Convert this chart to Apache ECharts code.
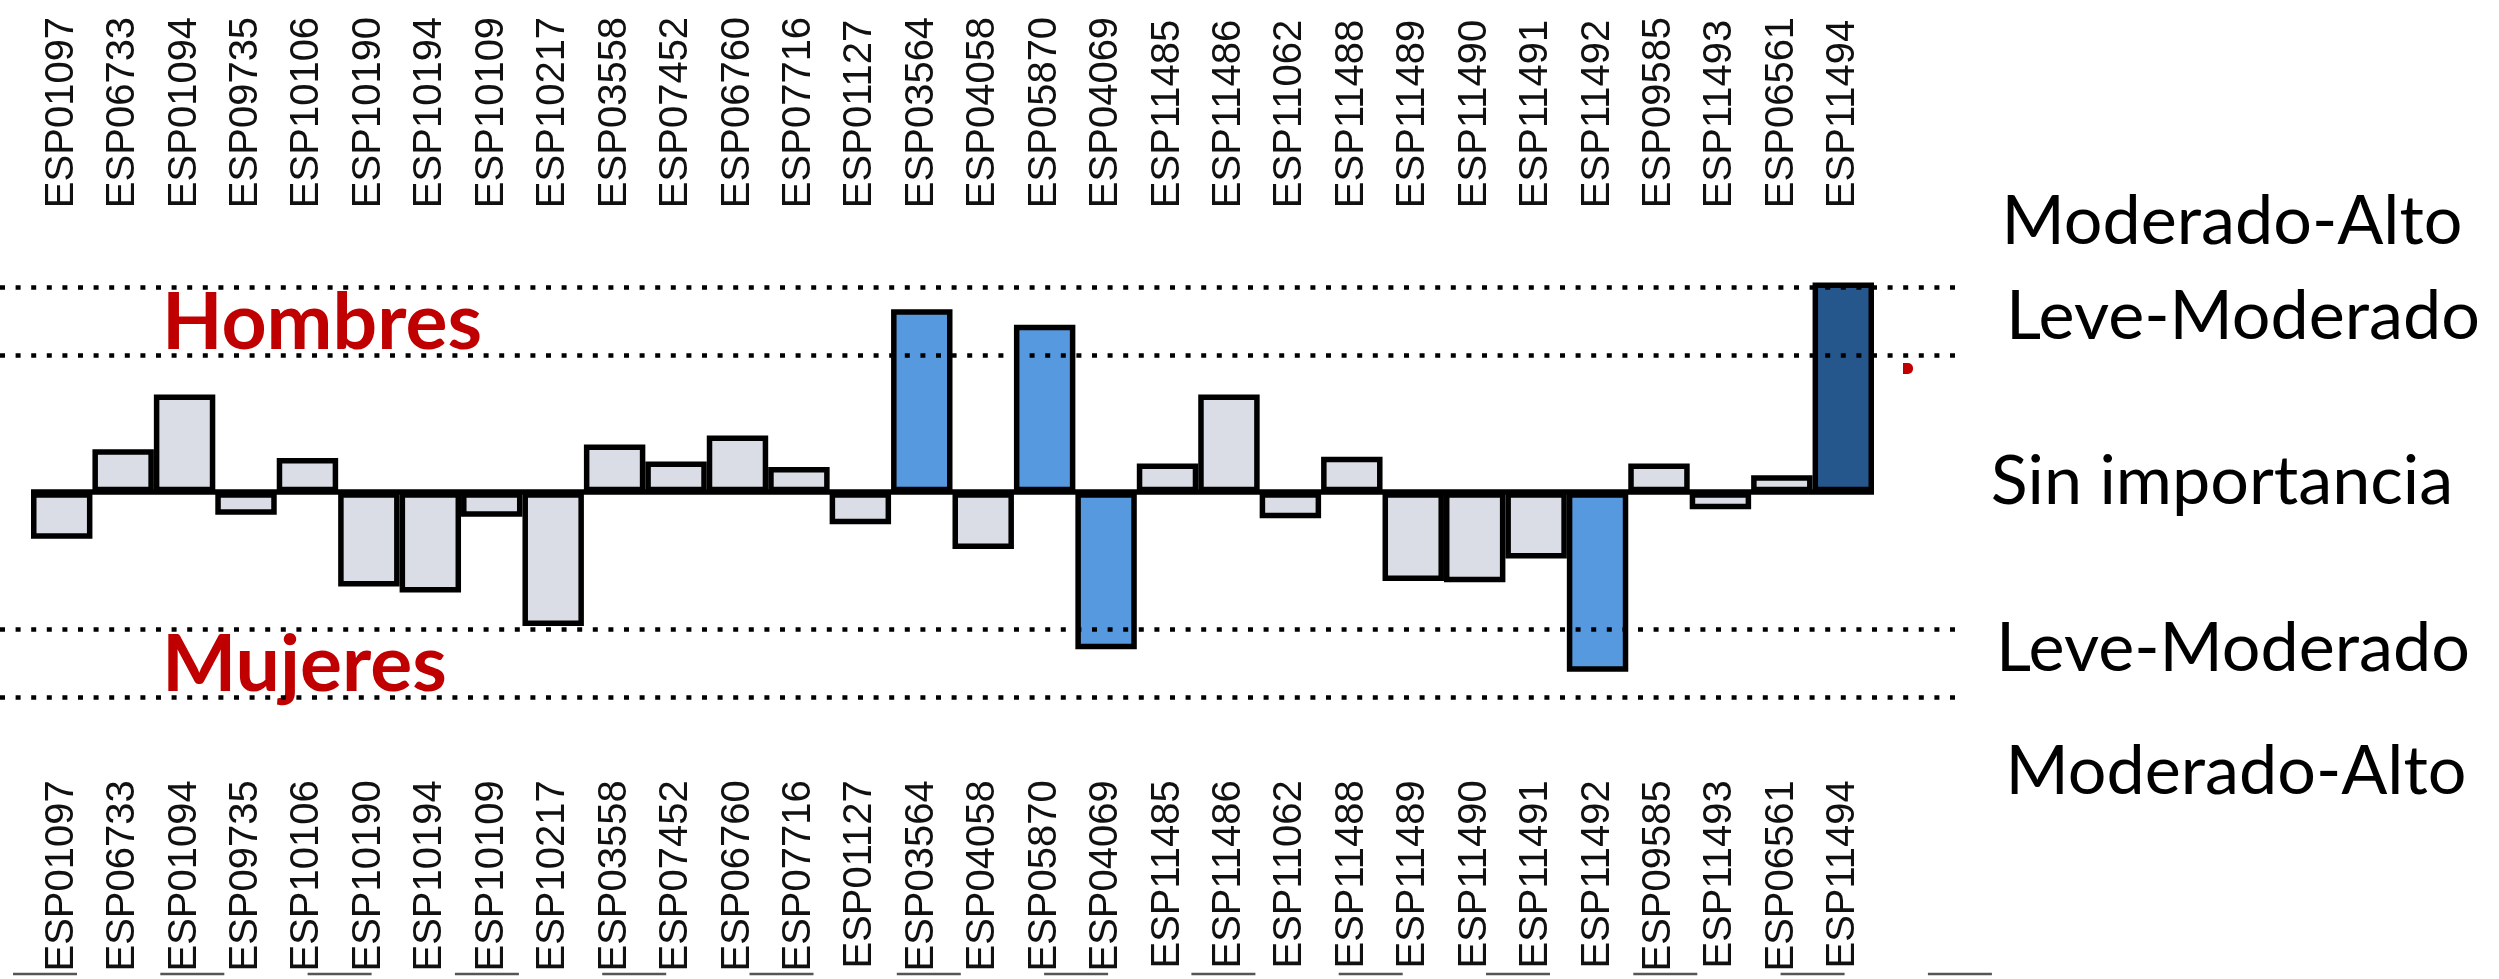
<!DOCTYPE html>
<html>
<head>
<meta charset="utf-8">
<script src="https://cdn.jsdelivr.net/npm/echarts@6/dist/echarts.min.js"></script>
<style>
  html, body { margin: 0; padding: 0; background: #ffffff; }
  #chart { width: 2499px; height: 979px; }
</style>
</head>
<body>
<div id="chart"></div>
<script>
// Station codes, left to right
const categories = [
  'ESP01097', 'ESP06733', 'ESP01094', 'ESP09735', 'ESP10106', 'ESP10190',
  'ESP10194', 'ESP10109', 'ESP10217', 'ESP03558', 'ESP07452', 'ESP06760',
  'ESP07716', 'ESP01127', 'ESP03564', 'ESP04058', 'ESP05870', 'ESP04069',
  'ESP11485', 'ESP11486', 'ESP11062', 'ESP11488', 'ESP11489', 'ESP11490',
  'ESP11491', 'ESP11492', 'ESP09585', 'ESP11493', 'ESP06561', 'ESP11494'
];

// Difference per station: positive = Hombres, negative = Mujeres
const values = [
  -0.68, 0.63, 1.43, -0.33, 0.50, -1.38,
  -1.47, -0.36, -1.96, 0.70, 0.45, 0.83,
  0.37, -0.47, 2.68, -0.83, 2.45, -2.30,
  0.42, 1.43, -0.38, 0.52, -1.30, -1.32,
  -0.97, -2.63, 0.42, -0.25, 0.25, 3.07
];

// Class limits: Leve-Moderado and Moderado-Alto
const thresholds = [2, 3];

// Level names, top to bottom
const levelLabels = ['Moderado-Alto', 'Leve-Moderado', 'Sin importancia', 'Leve-Moderado', 'Moderado-Alto'];
const groupLabels = ['Hombres', 'Mujeres'];

const W = 2499, H = 979;
const zeroY = 492.2;       // pixel row of the zero line
const unitPx = 68.3;       // pixels per unit
const yMin = -3.5, yMax = 3.5;
const gridTop = zeroY - yMax * unitPx;
const gridBottomEdge = zeroY - yMin * unitPx;

const colGrey = '#dadde5';
const colBlue = '#5799df';
const colNavy = '#26578c';

function barColor(v) {
  const a = Math.abs(v);
  if (a >= thresholds[1]) return colNavy;
  if (a >= thresholds[0]) return colBlue;
  return colGrey;
}

// Font size that makes a string span a given width
function fitFontSize(text, weight, family, width) {
  const ctx = document.createElement('canvas').getContext('2d');
  ctx.font = weight + ' 100px ' + family;
  return 100 * width / ctx.measureText(text).width;
}

const levelFont = fitFontSize('Leve-Moderado', 'normal', 'Lato', 474);
const groupFont = fitFontSize('Hombres', 'bold', 'Lato', 320);

const levelX = [2232, 2243, 2222, 2233, 2236];
const levelY = [222, 317, 482, 649, 772];
const groupY = [324, 666];

const graphics = [];
levelLabels.forEach((t, i) => {
  graphics.push({
    type: 'text', x: levelX[i], y: levelY[i], silent: true,
    style: { text: t, fontSize: levelFont, fontFamily: 'Lato', fontWeight: 'normal',
             fill: '#000', align: 'center', verticalAlign: 'middle' }
  });
});
groupLabels.forEach((t, i) => {
  graphics.push({
    type: 'text', x: 162, y: groupY[i], silent: true,
    style: { text: t, fontSize: groupFont, fontFamily: 'Lato', fontWeight: 'bold',
             fill: '#c00000', align: 'left', verticalAlign: 'middle' }
  });
});
// small red stroke right of the plot
graphics.push({
  type: 'rect', silent: true,
  shape: { x: 1903, y: 363, width: 10, height: 11, r: [0, 5, 5, 0] },
  style: { fill: '#c00000' }
});
// short rules along the bottom edge
for (let i = 0; i < 14; i++) {
  const x0 = 13 + i * 147.3;
  graphics.push({
    type: 'line', silent: true,
    shape: { x1: x0, y1: 974, x2: x0 + 64, y2: 974 },
    style: { stroke: '#555', lineWidth: 2.5 }
  });
}

const limitLines = thresholds.concat(thresholds.map(t => -t)).map(v => ({ yAxis: v }));

const axisLabelStyle = {
  rotate: 90, interval: 0, fontSize: 40, fontFamily: 'Liberation Sans', color: '#111'
};

const chart = echarts.init(document.getElementById('chart'), null, { renderer: 'canvas', width: W, height: H });
chart.setOption({
  animation: false,
  backgroundColor: '#ffffff',
  grid: [
    { left: 31, right: W - 1874, top: gridTop, bottom: H - gridBottomEdge },
    { left: 0, right: W - 1960, top: gridTop, bottom: H - gridBottomEdge }
  ],
  xAxis: [
    { gridIndex: 0, type: 'category', data: categories, position: 'top',
      axisLine: { show: false }, axisTick: { show: false }, splitLine: { show: false },
      axisLabel: Object.assign({ margin: 45 }, axisLabelStyle) },
    { gridIndex: 0, type: 'category', data: categories, position: 'bottom',
      axisLine: { show: false }, axisTick: { show: false }, splitLine: { show: false },
      axisLabel: Object.assign({ margin: 49 }, axisLabelStyle) },
    { gridIndex: 1, type: 'value', min: 0, max: 1, show: false }
  ],
  yAxis: [
    { gridIndex: 0, type: 'value', min: yMin, max: yMax, show: false },
    { gridIndex: 1, type: 'value', min: yMin, max: yMax, show: false }
  ],
  series: [
    {
      type: 'bar', xAxisIndex: 0, yAxisIndex: 0,
      barCategoryGap: '0%',
      data: values.map(v => ({ value: v, itemStyle: { color: barColor(v) } })),
      itemStyle: { borderColor: '#000', borderWidth: 5.5 },
      emphasis: { disabled: true },
      markLine: {
        silent: true, symbol: 'none', label: { show: false },
        lineStyle: { color: '#000', width: 5.5, type: 'solid' },
        emphasis: { disabled: true },
        data: [{ yAxis: 0 }]
      }
    },
    {
      type: 'line', xAxisIndex: 2, yAxisIndex: 1,
      data: [], showSymbol: false, z: 6,
      markLine: {
        silent: true, symbol: 'none', label: { show: false },
        lineStyle: { color: '#000', width: 4.5, type: [5, 10.6], cap: 'butt' },
        emphasis: { disabled: true },
        data: limitLines
      }
    }
  ],
  graphic: graphics
});
</script>
</body>
</html>
